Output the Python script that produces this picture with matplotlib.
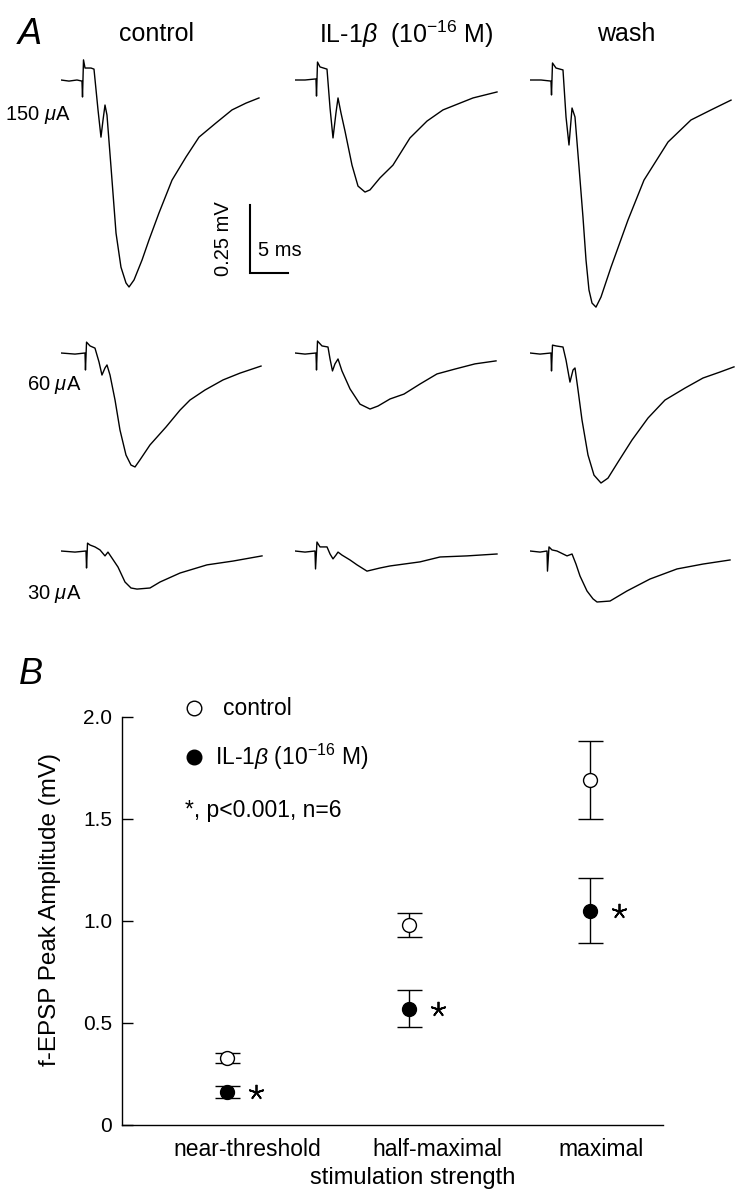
import matplotlib
matplotlib.use("Agg")
import matplotlib.pyplot as plt

plt.rcParams['font.family'] = ['Liberation Sans', 'DejaVu Sans']
plt.rcParams['mathtext.fontset'] = 'custom'
plt.rcParams['mathtext.rm'] = 'Liberation Sans'
plt.rcParams['mathtext.it'] = 'Liberation Sans:italic'
plt.rcParams['mathtext.bf'] = 'Liberation Sans:bold'

# ---- panel A: field EPSP traces (time in ms, voltage in mV) ----
ctrl_150_t = [0, 1.05, 2.1, 2.76, 2.83, 2.96, 3.16, 3.95, 4.34, 4.87, 5.26, 5.53, 5.79, 6.05,
              6.58, 7.24, 7.89, 8.55, 8.95, 9.61, 10.66, 11.58, 12.89, 14.61, 16.45, 18.16,
              20.39, 22.5, 24.34, 26.05]
ctrl_150_mv = [0, -0.004, 0, -0.004, -0.0625, 0.074, 0.044, 0.044, 0.040, -0.110, -0.210, -0.147,
               -0.092, -0.129, -0.320, -0.563, -0.688, -0.746, -0.761, -0.735, -0.662, -0.588,
               -0.489, -0.368, -0.283, -0.210, -0.158, -0.110, -0.085, -0.066]
il_150_t = [0, 1.32, 2.76, 2.83, 2.96, 3.29, 4.21, 4.61, 5.0, 5.39, 5.66, 6.05, 6.58, 7.5, 8.29,
            9.21, 9.87, 11.18, 12.89, 15.13, 17.37, 19.47, 21.71, 23.42, 26.58]
il_150_mv = [0, 0, 0.004, -0.059, 0.066, 0.048, 0.040, -0.103, -0.213, -0.121, -0.066, -0.121,
             -0.188, -0.313, -0.390, -0.412, -0.404, -0.360, -0.313, -0.213, -0.151, -0.110,
             -0.085, -0.066, -0.044]
wash_150_t = [0, 1.45, 2.76, 2.83, 2.96, 3.42, 4.34, 4.74, 5.13, 5.53, 5.92, 6.45, 6.97, 7.37,
              7.76, 8.16, 8.68, 9.34, 10.66, 12.89, 15.0, 18.16, 21.18, 23.82, 26.45]
wash_150_mv = [0, 0, -0.004, -0.055, 0.0625, 0.044, 0.037, -0.136, -0.239, -0.103, -0.136,
               -0.320, -0.504, -0.662, -0.772, -0.820, -0.835, -0.798, -0.688, -0.515, -0.368,
               -0.228, -0.147, -0.110, -0.074]

ctrl_60_t = [0, 1.84, 3.16, 3.22, 3.36, 3.82, 4.47, 5.0, 5.39, 5.79, 6.05, 6.45, 7.11, 7.76,
             8.55, 9.21, 9.74, 10.39, 11.71, 13.82, 15.66, 16.97, 18.95, 21.32, 23.55, 26.32]
ctrl_60_mv = [0, -0.004, 0, -0.0625, 0.040, 0.026, 0.018, -0.033, -0.081, -0.055, -0.044,
              -0.081, -0.173, -0.283, -0.375, -0.412, -0.419, -0.393, -0.338, -0.272, -0.210,
              -0.173, -0.136, -0.099, -0.074, -0.048]
il_60_t = [0, 1.32, 2.76, 2.83, 2.96, 3.55, 4.34, 4.61, 4.93, 5.26, 5.66, 6.18, 7.24, 8.55,
           9.87, 10.92, 12.5, 14.34, 16.45, 18.68, 21.05, 23.68, 26.45]
il_60_mv = [0, -0.004, 0, -0.0625, 0.044, 0.026, 0.022, -0.022, -0.066, -0.040, -0.022, -0.066,
            -0.132, -0.188, -0.206, -0.195, -0.169, -0.151, -0.114, -0.077, -0.059, -0.040,
            -0.029]
wash_60_t = [0, 1.32, 2.76, 2.83, 2.96, 3.42, 4.34, 4.74, 5.26, 5.66, 5.92, 6.32, 6.84, 7.63,
             8.42, 9.34, 10.26, 11.58, 13.42, 15.53, 17.76, 20.39, 22.76, 25.0, 26.84]
wash_60_mv = [0, -0.004, 0, -0.066, 0.029, 0.026, 0.022, -0.026, -0.107, -0.0625, -0.055,
              -0.136, -0.246, -0.375, -0.449, -0.478, -0.460, -0.401, -0.320, -0.239, -0.173,
              -0.129, -0.092, -0.070, -0.051]

ctrl_30_t = [0, 1.84, 3.29, 3.36, 3.49, 3.82, 4.47, 5.13, 5.79, 6.18, 6.71, 7.5, 8.42, 9.21,
             10.0, 11.71, 13.03, 15.66, 19.21, 22.63, 26.45]
ctrl_30_mv = [0, -0.004, 0, -0.0625, 0.029, 0.022, 0.015, 0.004, -0.018, -0.004, -0.026,
              -0.059, -0.114, -0.136, -0.140, -0.136, -0.114, -0.081, -0.051, -0.037, -0.018]
il_30_t = [0, 1.32, 2.63, 2.70, 2.89, 3.29, 4.21, 4.61, 5.0, 5.39, 5.66, 6.18, 7.24, 8.16,
           9.47, 11.18, 12.5, 16.45, 19.08, 22.63, 26.58]
il_30_mv = [0, -0.004, 0, -0.066, 0.033, 0.015, 0.015, -0.011, -0.029, -0.015, -0.004, -0.015,
            -0.033, -0.051, -0.074, -0.0625, -0.055, -0.040, -0.022, -0.018, -0.011]
wash_30_t = [0, 1.32, 2.24, 2.30, 2.5, 2.89, 3.55, 4.87, 5.53, 6.05, 6.58, 7.5, 8.29, 8.82,
             10.53, 12.76, 15.79, 19.34, 22.76, 26.32]
wash_30_mv = [0, -0.004, 0, -0.074, 0.015, 0.004, 0, -0.018, -0.011, -0.048, -0.092, -0.147,
              -0.176, -0.1875, -0.184, -0.147, -0.103, -0.066, -0.048, -0.033]

conditions = ['control', r'IL-1$\beta$  (10$^{-16}$ M)', 'wash']
intensities = [r'150 $\mu$A', r'60 $\mu$A', r'30 $\mu$A']

# ---- panel B: peak amplitudes ----
categories = ['near-threshold', 'half-maximal', 'maximal']
control_mean = [0.33, 0.98, 1.69]
control_sem = [0.025, 0.06, 0.19]
il_mean = [0.16, 0.57, 1.05]
il_sem = [0.03, 0.09, 0.16]

W, H = 745, 1199
fig = plt.figure(figsize=(W / 100, H / 100), dpi=100)


def px_axes(left, top, width, height):
    return fig.add_axes([left / W, 1 - (top + height) / H, width / W, height / H])


def px_text(x, y, s, **kw):
    return fig.text(x / W, 1 - y / H, s, **kw)


PX_MS = 7.6    # pixels per ms
PX_MV = 272    # pixels per mV
col_left = [61, 295, 530]
row_base = [80, 353, 551]
traces = [
    [(ctrl_150_t, ctrl_150_mv), (il_150_t, il_150_mv), (wash_150_t, wash_150_mv)],
    [(ctrl_60_t, ctrl_60_mv), (il_60_t, il_60_mv), (wash_60_t, wash_60_mv)],
    [(ctrl_30_t, ctrl_30_mv), (il_30_t, il_30_mv), (wash_30_t, wash_30_mv)],
]

v_top, v_bot = 0.2, -1.0
trace_axes = []
for r, row in enumerate(traces):
    for c, (t, mv) in enumerate(row):
        ax = px_axes(col_left[c], row_base[r] - v_top * PX_MV, 215, (v_top - v_bot) * PX_MV)
        ax.plot(t, mv, color='black', lw=1.0)
        ax.set_xlim(0, 215 / PX_MS)
        ax.set_ylim(v_bot, v_top)
        ax.axis('off')
        ax.patch.set_alpha(0)
        trace_axes.append(ax)

# scale bar (0.25 mV, 5 ms) in the first trace's coordinates
sb = trace_axes[0]
sb_t, sb_v = 24.9, -0.46
sb.plot([sb_t, sb_t, sb_t + 5], [sb_v, sb_v - 0.25, sb_v - 0.25], color='black', lw=1.5,
        clip_on=False, solid_joinstyle='miter')
sb.text(sb_t - 3.5, sb_v - 0.125, '0.25 mV', rotation=90, ha='center', va='center',
        fontsize=14.5)
sb.text(sb_t + 1.0, sb_v - 0.165, '5 ms', ha='left', va='center', fontsize=14.5)

px_text(18, 34, 'A', fontsize=26, style='italic', va='center', ha='left')
title_x = [156, 406, 626]
for x, s in zip(title_x, conditions):
    px_text(x, 34, s, fontsize=18, ha='center', va='center')
label_pos = [(5, 115), (27, 385), (27, 594)]
for (x, y), s in zip(label_pos, intensities):
    px_text(x, y, s, fontsize=14.5, ha='left', va='center')

# ---- panel B ----
px_text(19, 675, 'B', fontsize=26, style='italic', va='center', ha='left')
axb = px_axes(122, 717, 541, 408)
xpos = list(range(len(categories)))
axb.errorbar(xpos, control_mean, yerr=control_sem, fmt='o', ms=10, mfc='white', mec='black',
             mew=1.0, ecolor='black', elinewidth=1.0, capsize=9, capthick=1.0, zorder=3)
axb.errorbar(xpos, il_mean, yerr=il_sem, fmt='o', ms=10, mfc='black', mec='black',
             ecolor='black', elinewidth=1.0, capsize=9, capthick=1.0, zorder=3)
axb.plot([x + 0.16 for x in xpos], il_mean, linestyle='none', marker=(5, 2, 0), ms=11,
         mew=1.3, color='black')

axb.set_xlim(-0.578, 2.40)
axb.set_ylim(0, 2.0)
axb.set_yticks([0, 0.5, 1.0, 1.5, 2.0])
axb.set_yticklabels(['0', '0.5', '1.0', '1.5', '2.0'])
label_shift = [0.11, 0.16, 0.06]
axb.set_xticks([x + s for x, s in zip(xpos, label_shift)])
axb.set_xticklabels(categories)
axb.tick_params(axis='y', direction='in', length=8, width=1, labelsize=15, pad=7)
axb.tick_params(axis='x', length=0, labelsize=16.5, pad=9)
for side in ['top', 'right']:
    axb.spines[side].set_visible(False)
for side in ['left', 'bottom']:
    axb.spines[side].set_linewidth(1.0)

axb.set_xlabel('stimulation strength', fontsize=17)
axb.xaxis.set_label_coords((413 - 122) / 541, -0.13)
axb.xaxis.label.set_va('center')
axb.set_ylabel('f-EPSP Peak Amplitude (mV)', fontsize=17.5)
axb.yaxis.set_label_coords(-0.133, 0.527)
axb.yaxis.label.set_va('center')

# legend drawn by hand
axb.plot([0.133], [1.022], 'o', ms=10.5, mfc='white', mec='black', mew=1.0,
         transform=axb.transAxes, clip_on=False)
axb.plot([0.133], [0.902], 'o', ms=10.5, mfc='black', mec='black',
         transform=axb.transAxes, clip_on=False)
axb.text(0.187, 1.022, 'control', transform=axb.transAxes, fontsize=16.5, va='center')
axb.text(0.172, 0.902, r'IL-1$\beta$ (10$^{-16}$ M)', transform=axb.transAxes, fontsize=16.5,
         va='center')
axb.text(0.116, 0.772, '*, p<0.001, n=6', transform=axb.transAxes, fontsize=16.5,
         va='center')

fig.savefig('out.png', dpi=100)
